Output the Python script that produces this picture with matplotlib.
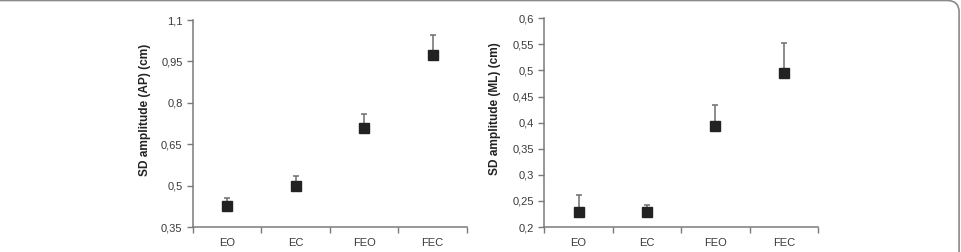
import matplotlib
matplotlib.use('Agg')
from matplotlib import pyplot as plt
from matplotlib.patches import FancyBboxPatch

plt.rcParams['font.family'] = ['Liberation Sans', 'DejaVu Sans']

conditions = ['EO', 'EC', 'FEO', 'FEC']

ap_mean = [0.427, 0.500, 0.709, 0.975]
ap_err = [0.029, 0.033, 0.050, 0.069]
ap_ticks = [0.35, 0.5, 0.65, 0.8, 0.95, 1.1]

ml_mean = [0.228, 0.228, 0.393, 0.496]
ml_err = [0.033, 0.015, 0.040, 0.056]
ml_ticks = [0.2, 0.25, 0.3, 0.35, 0.4, 0.45, 0.5, 0.55, 0.6]

text_col = '#3a3a3a'
axis_col = '#7a7a7a'

fig = plt.figure(figsize=(9.61, 2.52), dpi=100)

# rounded frame of the original figure panel
frame = FancyBboxPatch((-0.02, -0.2), 1.018, 1.198, transform=fig.transFigure,
                       boxstyle='round,pad=0,rounding_size=0.012',
                       fc='none', ec='#8a8a8a', lw=1.2, mutation_aspect=3.8)
fig.patches.append(frame)


def draw(ax, mean, err, ticks, label, lx):
    x = [i + 0.5 for i in range(len(conditions))]
    ax.errorbar(x, mean, yerr=[[0] * len(err), err], fmt='none',
                ecolor='#6e6e6e', elinewidth=1.1, capsize=2.5, capthick=1.1)
    ax.plot(x, mean, 's', color='#222222', markersize=6.5, zorder=3)
    ax.set_xlim(0, len(conditions))
    ax.set_ylim(ticks[0], ticks[-1])
    ax.set_yticks(ticks)
    ax.set_yticklabels([('%g' % t).replace('.', ',') for t in ticks])
    ax.set_xticks(range(len(conditions) + 1))
    ax.set_xticklabels([])
    ax.set_xticks(x, minor=True)
    ax.set_xticklabels(conditions, minor=True)
    ax.tick_params(axis='x', which='minor', length=0, pad=8)
    ax.tick_params(axis='both', which='major', length=4, width=1, color=axis_col,
                   direction='out')
    ax.tick_params(axis='both', which='both', labelsize=8, labelcolor=text_col)
    for s in ['top', 'right']:
        ax.spines[s].set_visible(False)
    for s in ['left', 'bottom']:
        ax.spines[s].set_color(axis_col)
        ax.spines[s].set_linewidth(1.1)
    ax.set_ylabel(label, fontsize=8.6, fontweight='bold', color='#222222')
    ax.yaxis.set_label_coords(lx, 0.565)


ax1 = fig.add_axes([0.2008, 0.0992, 0.285, 0.8214])
draw(ax1, ap_mean, ap_err, ap_ticks, 'SD amplitude (AP) (cm)', -0.155)

ax2 = fig.add_axes([0.5664, 0.0992, 0.285, 0.8282])
draw(ax2, ml_mean, ml_err, ml_ticks, 'SD amplitude (ML) (cm)', -0.159)

plt.savefig('out.png', dpi=100)
